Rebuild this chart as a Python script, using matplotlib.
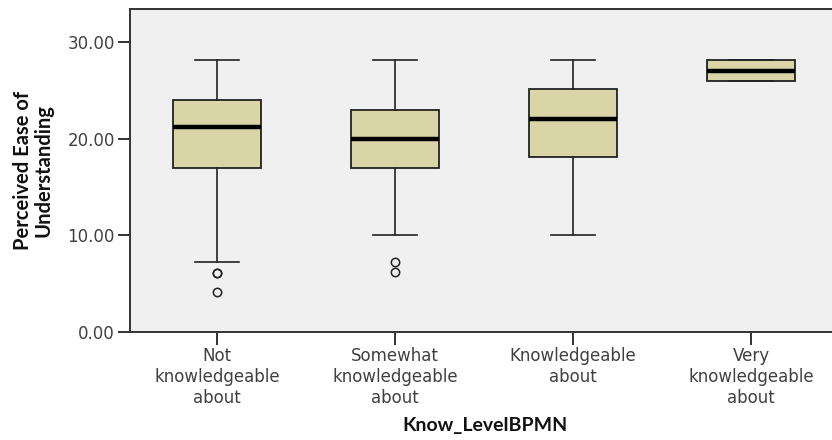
import matplotlib
matplotlib.use("Agg")
import matplotlib.pyplot as plt

# box statistics
categories = ["Not\nknowledgeable\nabout", "Somewhat\nknowledgeable\nabout",
              "Knowledgeable\nabout", "Very\nknowledgeable\nabout"]
whislo = [7.2, 10.0, 10.0, 26.0]
q1 = [17.0, 17.0, 18.1, 26.0]
med = [21.2, 20.0, 22.0, 27.0]
q3 = [24.0, 23.0, 25.1, 28.1]
whishi = [28.1, 28.1, 28.1, 28.1]
outliers = [[6.05, 6.15, 4.1], [7.2, 6.2], [], []]

stats = []
for i in range(len(categories)):
    stats.append({"whislo": whislo[i], "q1": q1[i], "med": med[i], "q3": q3[i],
                  "whishi": whishi[i], "fliers": outliers[i]})

plt.rcParams['font.family'] = ['DejaVu Sans']
fig = plt.figure(figsize=(8.32, 4.40), dpi=100)
ax = fig.add_axes([130 / 832, 108 / 440, 710 / 832, 323 / 440])
ax.set_facecolor('#f0f0f0')

ax.bxp(stats, positions=range(len(categories)), widths=0.495, patch_artist=True,
       boxprops=dict(facecolor='#d9d5a7', edgecolor='#222222', linewidth=1.3),
       medianprops=dict(color='black', linewidth=3.2, solid_capstyle='butt'),
       whiskerprops=dict(color='#222222', linewidth=1.2),
       capprops=dict(color='#222222', linewidth=1.2),
       capwidths=0.25,
       flierprops=dict(marker='o', markersize=6, markerfacecolor='none',
                       markeredgecolor='#222222', markeredgewidth=1.1))

ax.set_xlim(-0.49, 3.5)
ax.set_ylim(0, 33.4)
ax.set_yticks([0, 10, 20, 30])
ax.set_yticklabels(["0.00", "10.00", "20.00", "30.00"])
ax.set_xticks(range(len(categories)))
ax.set_xticklabels(categories, linespacing=1.2)

for side in ['top', 'right', 'left', 'bottom']:
    ax.spines[side].set_color('#333333')
    ax.spines[side].set_linewidth(1.4)
ax.tick_params(axis='both', direction='out', length=9, width=1.4, color='#333333',
               labelsize=12, labelcolor='#404040', pad=2)

ax.set_ylabel("Perceived Ease of\nUnderstanding", family=['Lato', 'DejaVu Sans'],
              fontsize=14.5, fontweight='bold', linespacing=1.05, labelpad=10,
              color='#111111')
ax.set_xlabel("Know_LevelBPMN", family=['Lato', 'DejaVu Sans'], fontsize=14,
              fontweight='bold', labelpad=7, color='#111111')

plt.savefig('out.png', dpi=100)
